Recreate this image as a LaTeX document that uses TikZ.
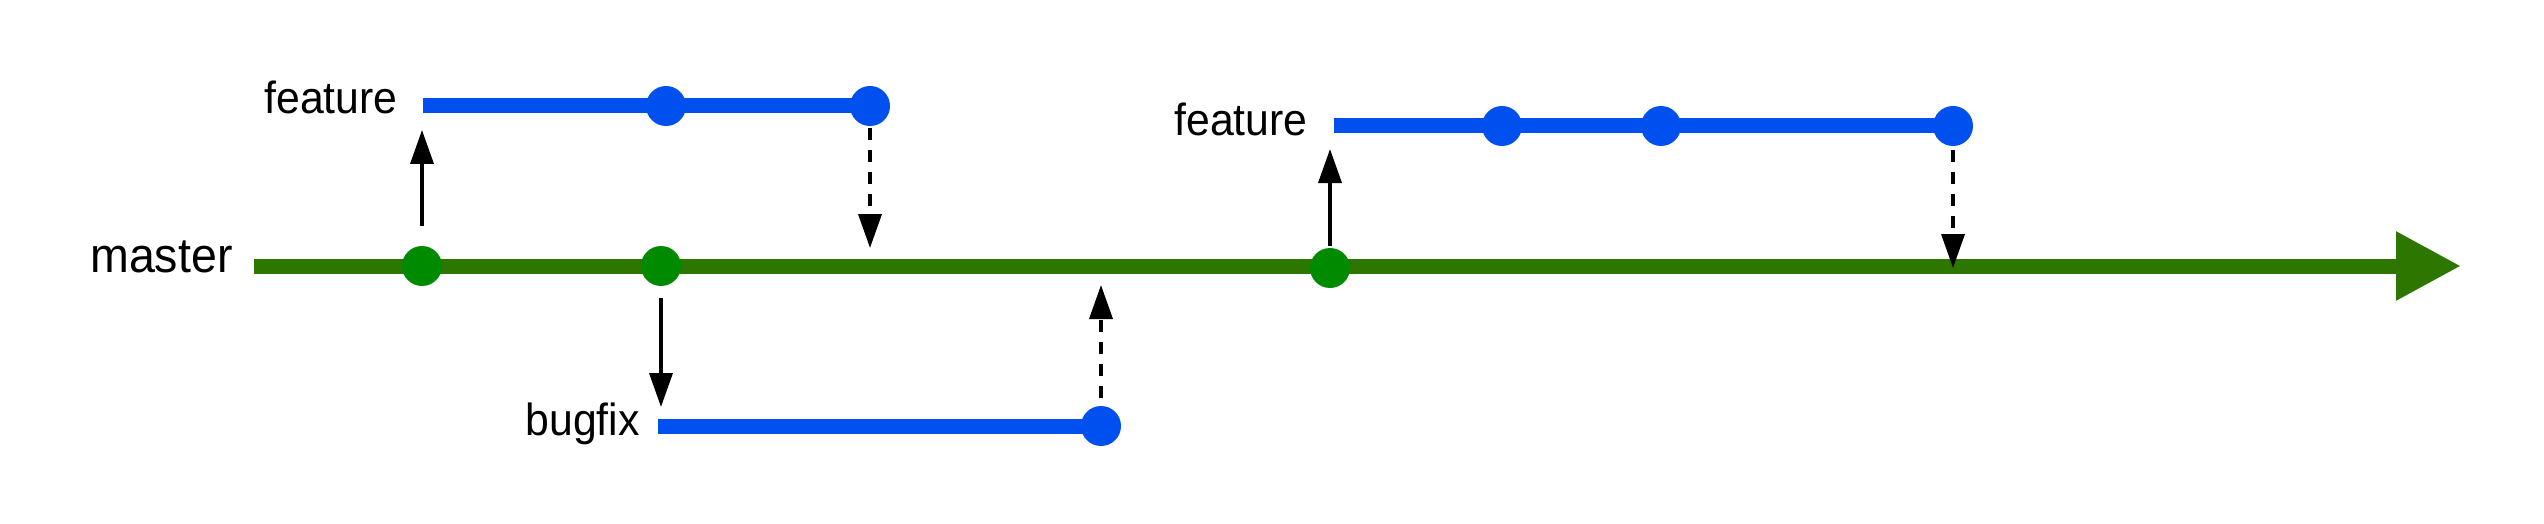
\documentclass[tikz,border=0pt]{standalone}
\usepackage{fontspec}
\setmainfont{Liberation Sans}
\newfontfamily\labelfont[FakeStretch=0.95]{Liberation Sans}
\usetikzlibrary{arrows.meta}
\definecolor{mgreen}{HTML}{2D7600}
\definecolor{dgreen}{HTML}{008A00}
\definecolor{fblue}{HTML}{0050EF}
\tikzset{
  masterline/.style={draw=mgreen, line width=7.5pt, -{Triangle[length=32.5pt,width=32.5pt]}, color=mgreen},
  branchline/.style={draw=fblue, line width=7.5pt},
  gdot/.style={circle, fill=dgreen, minimum size=20pt, inner sep=0pt, outer sep=0pt},
  bdot/.style={circle, fill=fblue, minimum size=20pt, inner sep=0pt, outer sep=0pt},
  arr/.style={draw=black, line width=1.8pt, -{Triangle[length=17pt,width=11.5pt]}},
  darr/.style={arr, dash pattern=on 6pt off 5pt},
  bigtext/.style={anchor=base east, inner sep=0pt, font=\labelfont\fontsize{24.5}{28}\selectfont},
  smalltext/.style={anchor=base east, inner sep=0pt, font=\labelfont\fontsize{22.5}{26}\selectfont},
}
\begin{document}
\begin{tikzpicture}[x=0.5pt,y=-0.5pt]
\useasboundingbox (0,0) rectangle (2544,524);
% master
\coordinate (m0) at (254,266);
\coordinate (mend) at (2461,266);
\node[bigtext] (mlabel) at (233,272) {master};
\draw[masterline] (m0) -- (mend);
\node[gdot] (g1) at (422,266) {};
\node[gdot] (g2) at (661,266) {};
\node[gdot] (g3) at (1330,268) {};
% feature 1
\coordinate (f1s) at (423,106);
\node[smalltext] (f1label) at (398,114) {feature};
\draw[branchline] (f1s) -- (870,106);
\node[bdot] (f1a) at (666,106) {};
\node[bdot] (f1b) at (870,106) {};
% bugfix
\coordinate (b0) at (658,426);
\node[smalltext] (blabel) at (640,435) {bugfix};
\draw[branchline] (b0) -- (1101,426);
\node[bdot] (b1) at (1101,426) {};
% feature 2
\coordinate (f2s) at (1334,126);
\node[smalltext] (f2label) at (1308,135) {feature};
\draw[branchline] (f2s) -- (1953,126);
\node[bdot] (f2a) at (1502,126) {};
\node[bdot] (f2b) at (1661,126) {};
\node[bdot] (f2c) at (1953,126) {};
% connectors
\draw[arr, shorten <=10pt, shorten >=12pt] (g1) -- (g1 |- f1s);
\draw[darr, shorten <=1pt, shorten >=9pt] (f1b) -- (f1b |- m0);
\draw[arr, shorten <=6pt, shorten >=9.5pt] (g2) -- (g2 |- b0);
\draw[darr, shorten <=4pt, shorten >=9.5pt] (b1) -- (b1 |- m0);
\draw[arr, shorten <=1pt, shorten >=11.5pt] (g3) -- (g3 |- f2s);
\draw[darr, shorten <=2pt, shorten >=-1pt] (f2c) -- (f2c |- m0);
\end{tikzpicture}
\end{document}
